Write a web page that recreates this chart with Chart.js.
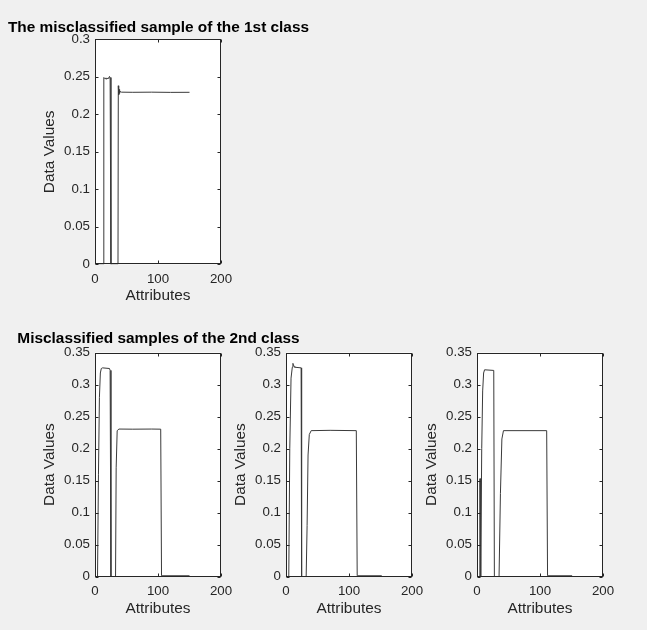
<!DOCTYPE html>
<html>
<head>
<meta charset="utf-8">
<script src="https://cdn.jsdelivr.net/npm/chart.js@4.4.1/dist/chart.umd.min.js"></script>
<style>
  html, body { margin: 0; padding: 0; background: #f0f0f0; }
  body { width: 647px; height: 630px; position: relative; overflow: hidden; }
  canvas { position: absolute; display: block; }
</style>
</head>
<body>
<canvas id="c1" width="317" height="310" style="left:0px;top:0px"></canvas>
<canvas id="c2" width="317" height="320" style="left:0px;top:310px"></canvas>
<canvas id="c3" width="317" height="320" style="left:191px;top:310px"></canvas>
<canvas id="c4" width="317" height="320" style="left:382px;top:310px"></canvas>
<script>
/* ---- values ---- */
const xTicks = [0, 100, 200];
const yTicksTop = [0, 0.05, 0.1, 0.15, 0.2, 0.25, 0.3];
const yTicksBottom = [0, 0.05, 0.1, 0.15, 0.2, 0.25, 0.3, 0.35];

// 1st class, misclassified sample (polyline vertices: attribute index, value)
const class1X = [0, 13, 14, 15, 16, 17, 18, 19, 20, 21, 22, 23, 24, 25.3, 36.5, 37, 37.6, 38.2, 39, 40, 42, 60, 90, 120, 150];
const class1Y = [0, 0, 0.249, 0.248, 0.2475, 0.2485, 0.247, 0.2485, 0.2475, 0.2485, 0.248, 0.2505, 0.249, 0, 0, 0.238, 0.226, 0.233, 0.228, 0.2305, 0.2295, 0.2293, 0.2295, 0.2292, 0.2293];

// 2nd class, three misclassified samples
const class2aX = [0, 4, 5.5, 7, 8.5, 10, 12, 23, 24, 25.3, 32.6, 33.6, 35.2, 38, 60, 90, 104.3, 105.6, 106, 150];
const class2aY = [0, 0, 0.16, 0.28, 0.318, 0.325, 0.326, 0.325, 0.322, 0, 0, 0.17, 0.228, 0.2305, 0.2303, 0.2305, 0.2303, 0.0015, 0.0015, 0.0015];

const class2bX = [0, 4.4, 6, 8, 10, 11, 11.8, 12.8, 14, 24, 24.4, 25.2, 32, 33.5, 35, 37, 40, 70, 111.6, 113, 152];
const class2bY = [0, 0, 0.2, 0.31, 0.327, 0.333, 0.331, 0.328, 0.327, 0.326, 0.325, 0, 0, 0.08, 0.19, 0.222, 0.228, 0.2285, 0.228, 0.0015, 0.0015];

const class2cX = [0, 4.2, 4.5, 5, 5.4, 6.3, 7.5, 9, 10.5, 12, 26.6, 27.6, 35, 37.2, 39.5, 42, 110.6, 112, 151];
const class2cY = [0, 0, 0.153, 0.153, 0, 0, 0.2, 0.29, 0.318, 0.323, 0.322, 0, 0, 0.13, 0.215, 0.228, 0.228, 0.0015, 0.0015];

/* ---- drawing ---- */
const INK = "#262626";
const FONT = "'Liberation Sans', Arial, Helvetica, sans-serif";

// white axes box, frame and inward ticks on all four sides like the original
const axesBox = {
  id: "axesBox",
  beforeDraw(chart){
    const a = chart.chartArea, ctx = chart.ctx;
    ctx.save();
    ctx.fillStyle = "#ffffff";
    ctx.fillRect(a.left, a.top, a.right - a.left, a.bottom - a.top);
    ctx.restore();
  },
  afterDraw(chart){
    const a = chart.chartArea, ctx = chart.ctx;
    const x = chart.scales.x, y = chart.scales.y;
    const L = Math.round(a.left) + 0.5, R = Math.round(a.right) - 0.5;
    const T = Math.round(a.top) + 0.5, B = Math.round(a.bottom) - 0.5;
    const tk = 3;
    ctx.save();
    ctx.strokeStyle = INK;
    ctx.lineWidth = 1;
    ctx.strokeRect(L, T, R - L, B - T);
    ctx.beginPath();
    x.ticks.forEach(t => {
      const px = Math.round(x.getPixelForValue(t.value)) + 0.5;
      ctx.moveTo(px, B); ctx.lineTo(px, B - tk);
      ctx.moveTo(px, T); ctx.lineTo(px, T + tk);
    });
    y.ticks.forEach(t => {
      const py = Math.round(y.getPixelForValue(t.value)) + 0.5;
      ctx.moveTo(L, py); ctx.lineTo(L + tk, py);
      ctx.moveTo(R, py); ctx.lineTo(R - tk, py);
    });
    ctx.stroke();
    ctx.restore();
  }
};

function fmt(v){ return String(Math.round(v * 100) / 100); }

function makeChart(id, xs, ys, yTicks, title, pad){
  const pts = xs.map((v, i) => ({ x: v, y: ys[i] }));
  return new Chart(document.getElementById(id), {
    type: "scatter",
    data: {
      datasets: [{
        data: pts,
        showLine: true,
        borderColor: "#3a3a3a",
        borderWidth: 1,
        pointRadius: 0,
        tension: 0
      }]
    },
    plugins: [axesBox],
    options: {
      responsive: false,
      animation: false,
      events: [],
      layout: { padding: { left: 0, right: 0, top: pad.top, bottom: pad.bottom } },
      plugins: {
        legend: { display: false },
        tooltip: { enabled: false },
        title: {
          display: !!title,
          text: title || "",
          color: "#000000",
          font: { family: FONT, size: 15.4, weight: "bold", lineHeight: 1.2 },
          padding: { top: pad.titleTop || 0, bottom: pad.titleBottom || 0 }
        }
      },
      scales: {
        x: {
          type: "linear",
          min: 0, max: 200,
          afterBuildTicks: s => { s.ticks = xTicks.map(v => ({ value: v })); },
          afterFit: s => { s.height = 41; },
          grid: { display: false, drawTicks: false, tickLength: 0 },
          border: { display: false },
          ticks: { color: INK, padding: 7, maxRotation: 0, font: { family: FONT, size: 13.3 }, callback: v => fmt(v) },
          title: { display: true, text: "Attributes", color: INK, padding: { top: 0, bottom: 0 },
                   font: { family: FONT, size: 15.4, lineHeight: 1.2 } }
        },
        y: {
          type: "linear",
          min: 0, max: yTicks[yTicks.length - 1],
          afterBuildTicks: s => { s.ticks = yTicks.map(v => ({ value: v })); },
          afterFit: s => { s.width = 95; },
          grid: { display: false, drawTicks: false, tickLength: 0 },
          border: { display: false },
          ticks: { color: INK, padding: 5, font: { family: FONT, size: 13.3 }, callback: v => fmt(v) },
          title: { display: true, text: "Data Values", color: INK, padding: { top: 40.3, bottom: 0 },
                   font: { family: FONT, size: 15.4, lineHeight: 1.2 } }
        },
        // empty right-hand box so the title centres over the axes
        y2: {
          type: "linear",
          position: "right",
          afterFit: s => { s.width = 96; },
          grid: { display: false, drawTicks: false, tickLength: 0 },
          border: { display: false },
          ticks: { display: false }
        }
      }
    }
  });
}

makeChart("c1", class1X, class1Y, yTicksTop, "The misclassified sample of the 1st class",
  { top: 0, bottom: 4.7, titleTop: 18.5, titleBottom: 2.3 });
makeChart("c2", class2aX, class2aY, yTicksBottom, "Misclassified samples of the 2nd class",
  { top: 0, bottom: 12.3, titleTop: 19.06, titleBottom: 4.96 });
makeChart("c3", class2bX, class2bY, yTicksBottom, null, { top: 42.5, bottom: 12.3 });
makeChart("c4", class2cX, class2cY, yTicksBottom, null, { top: 42.5, bottom: 12.3 });
</script>
</body>
</html>
